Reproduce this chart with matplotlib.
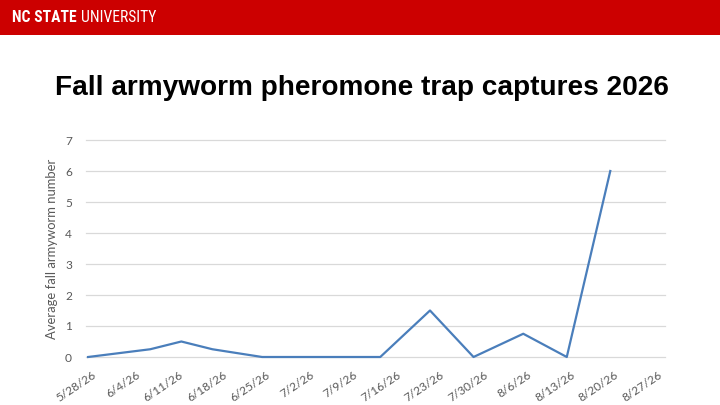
import matplotlib
matplotlib.use("Agg")
import matplotlib.pyplot as plt
import matplotlib.transforms as mtransforms
from matplotlib.patches import Rectangle
import pandas as pd

# trap check dates and average captures per trap
sample_dates = ["5/28/26", "6/7/26", "6/12/26", "6/17/26", "6/25/26", "7/14/26",
                "7/22/26", "7/29/26", "8/6/26", "8/13/26", "8/20/26"]
avg_captures = [0, 0.25, 0.5, 0.25, 0, 0, 1.5, 0, 0.75, 0, 6]

tick_dates = ["5/28/26", "6/4/26", "6/11/26", "6/18/26", "6/25/26", "7/2/26", "7/9/26",
              "7/16/26", "7/23/26", "7/30/26", "8/6/26", "8/13/26", "8/20/26", "8/27/26"]
y_ticks = [0, 1, 2, 3, 4, 5, 6, 7]

TITLE = "Fall armyworm pheromone trap captures 2026"
YLABEL = "Average fall armyworm number"

W, H = 720, 405
GRAY = "#595959"

fig = plt.figure(figsize=(W / 100, H / 100), dpi=100)
fig.patch.set_facecolor("white")
renderer = fig.canvas.get_renderer()

# red NC State banner
fig.add_artist(Rectangle((0, 1 - 35 / H), 1, 35 / H, transform=fig.transFigure,
                         facecolor="#CC0000", edgecolor="none"))
narrow = ["Roboto Condensed", "Liberation Sans Narrow", "DejaVu Sans"]
t1 = fig.text(12 / W, 1 - 18 / H, "NC STATE", color="white", fontweight="bold",
              family=narrow, fontstretch="condensed", fontsize=12, va="center", ha="left")
t2 = fig.text(0, 1 - 18 / H, "UNIVERSITY", color="white", fontstretch="condensed",
              family=narrow, fontsize=12, va="center", ha="left")
# squeeze the wordmark into the same width as the logo (~143 px)
w1 = t1.get_window_extent(renderer).width
w2 = t2.get_window_extent(renderer).width
size = min(12, 12 * 139 / (w1 + w2))
t1.set_fontsize(size)
t2.set_fontsize(size)
bb = t1.get_window_extent(renderer)
t2.set_x((bb.x1 + 4) / W)

fig.text(0.503, 1 - 88 / H, TITLE, fontsize=20.2, fontweight="bold",
         family=["Liberation Sans", "DejaVu Sans"], ha="center", va="center")

ax = fig.add_axes([86 / W, 1 - 357 / H, (665 - 86) / W, (357 - 140) / H])

x = pd.to_datetime(sample_dates, format="%m/%d/%y")
ticks = pd.to_datetime(tick_dates, format="%m/%d/%y")

ax.plot(x, avg_captures, color="#4A7EBB", lw=1.6, clip_on=False, zorder=3)

ax.set_ylim(0, 7)
ax.set_yticks(y_ticks)
ax.set_xlim(ticks[0] - pd.Timedelta(hours=8), ticks[-1] + pd.Timedelta(days=1.8))
ax.set_xticks(ticks)
ax.set_xticklabels(tick_dates, rotation=34, ha="right", va="top",
                   rotation_mode="anchor")

for s in ax.spines.values():
    s.set_visible(False)
ax.grid(axis="y", color="#D9D9D9", lw=0.9)
for gl in ax.get_ygridlines():
    gl.set_clip_on(False)
ax.set_axisbelow(True)

lab_font = ["Lato", "DejaVu Sans"]
ax.tick_params(axis="both", length=0, colors=GRAY, labelsize=8.6)
ax.tick_params(axis="y", pad=10)
ax.tick_params(axis="x", pad=9)
off = mtransforms.ScaledTranslation(4 / 100, 0, fig.dpi_scale_trans)
for lbl in ax.get_xticklabels():
    lbl.set_family(lab_font)
    lbl.set_transform(lbl.get_transform() + off)
for lbl in ax.get_yticklabels():
    lbl.set_family(lab_font)

ax.set_ylabel(YLABEL, color=GRAY, fontsize=9.4, family=lab_font)
ax.yaxis.set_label_coords(-28 / 579, 0.5)

fig.savefig("out.png", dpi=100)
